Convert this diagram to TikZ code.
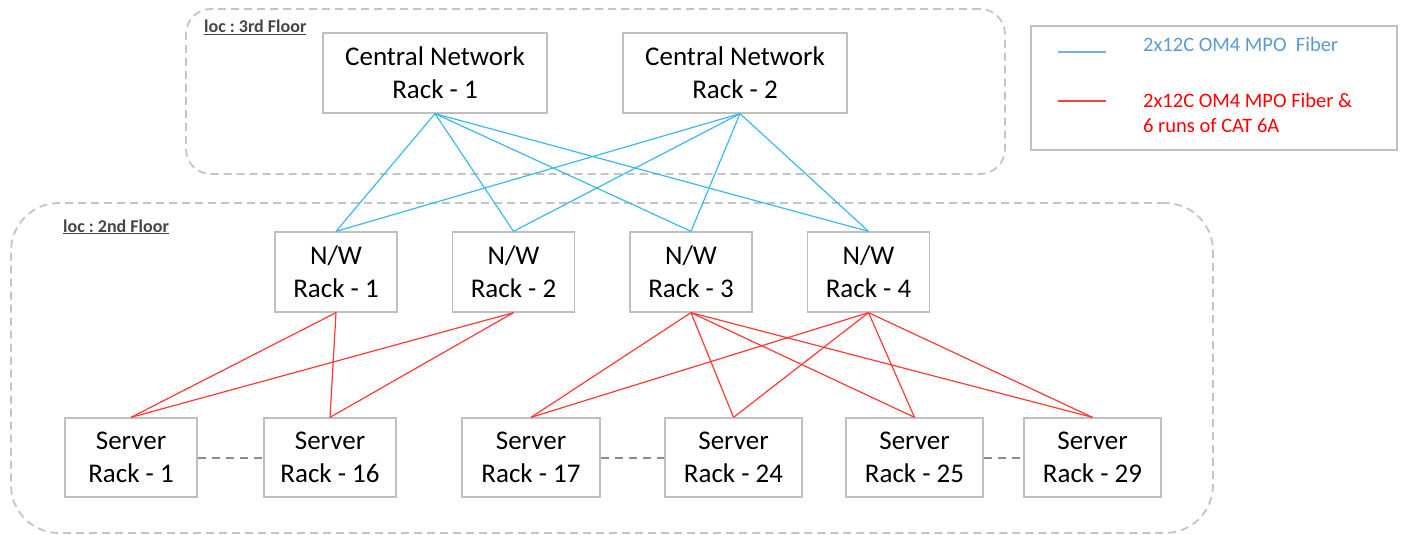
\documentclass[tikz,border=0pt]{standalone}
\usepackage{fontspec}
\setmainfont{Carlito}
\frenchspacing
\definecolor{boxgray}{HTML}{BFBFBF}
\definecolor{floorgray}{HTML}{C4C4C4}
\definecolor{linkgray}{HTML}{8C8C8C}
\definecolor{fiberblue}{HTML}{3CB9EA}
\definecolor{cablered}{HTML}{FF3838}
\definecolor{legblue}{HTML}{5B9BD5}
\definecolor{legred}{HTML}{FF0000}
\definecolor{labelgray}{HTML}{454545}
\begin{document}
\begin{tikzpicture}[x=1pt,y=-1pt,
  rack/.style={draw=boxgray, line width=1.3pt, inner sep=0pt, align=center,
    font=\fontsize{27}{33}\selectfont, text=black},
  floorbox/.style={draw=floorgray, line width=1.8pt, dash pattern=on 8pt off 5pt, inner sep=0pt},
  floorlabel/.style={font=\fontsize{18}{21}\selectfont\bfseries, text=labelgray, anchor=base west, inner sep=0pt},
  fiber/.style={draw=fiberblue, line width=1.2pt},
  cable/.style={draw=cablered, line width=1.2pt},
  serverlink/.style={draw=linkgray, line width=2pt, dash pattern=on 8pt off 6pt},
  legtext/.style={font=\fontsize{20.5}{25}\selectfont, anchor=base west, inner sep=0pt}]
\useasboundingbox (0,0) rectangle (1403,535);

% floors
\node[floorbox, rounded corners=25pt, minimum width=819pt, minimum height=165pt] (f3) at (595.5,91.5) {};
\node[floorbox, rounded corners=48pt, minimum width=1202pt, minimum height=330pt] (f2) at (612,368) {};
\node[floorlabel] (l3) at (204,33) {\underline{loc : 3rd Floor}};
\node[floorlabel] (l2) at (63,232) {\underline{loc : 2nd Floor}};

% central racks
\node[rack, minimum width=224pt, minimum height=80pt] (c1) at (435,73) {Central Network\\Rack - 1};
\node[rack, minimum width=224pt, minimum height=80pt] (c2) at (735,73) {Central Network\\Rack - 2};

% network racks
\foreach \i/\x in {1/336,2/513.5,3/691,4/868.5}
  \node[rack, minimum width=122pt, minimum height=80pt] (n\i) at (\x,272) {N/W\\ Rack - \i};

% server racks
\node[rack, minimum width=132pt, minimum height=79pt] (s1) at (131,457.5) {Server\\Rack - 1};
\node[rack, minimum width=132pt, minimum height=79pt] (s16) at (330,457.5) {Server\\ Rack - 16};
\node[rack, minimum width=138pt, minimum height=79pt] (s17) at (531,457.5) {Server\\ Rack - 17};
\node[rack, minimum width=137pt, minimum height=79pt] (s24) at (733.5,457.5) {Server\\ Rack - 24};
\node[rack, minimum width=137pt, minimum height=79pt] (s25) at (914.5,457.5) {Server\\ Rack - 25};
\node[rack, minimum width=137pt, minimum height=79pt] (s29) at (1092.5,457.5) {Server\\ Rack - 29};

% fiber links
\foreach \n in {1,2,3,4} {
  \draw[fiber] (c1.south) -- (n\n.north);
  \draw[fiber] ([xshift=5pt]c2.south) -- (n\n.north);
}

% copper + fiber links
\foreach \n in {1,2} \foreach \s in {s1,s16}
  \draw[cable] (n\n.south) -- (\s.north);
\foreach \n in {3,4} \foreach \s in {s17,s24,s25,s29}
  \draw[cable] (n\n.south) -- (\s.north);

% dashed continuation links
\draw[serverlink] (s1.east) -- (s16.west);
\draw[serverlink] (s17.east) -- (s24.west);
\draw[serverlink] (s25.east) -- (s29.west);

% legend
\node[draw=boxgray, line width=1.3pt, minimum width=366pt, minimum height=124pt] (leg) at (1214,88) {};
\coordinate (lb1) at (1058,52);
\coordinate (lb2) at (1106,52);
\coordinate (lr1) at (1058,101);
\coordinate (lr2) at (1106,101);
\draw[draw=legblue!80, line width=2pt] (lb1) -- (lb2);
\draw[draw=legred!75, line width=2pt] (lr1) -- (lr2);
\node[legtext, text=legblue] (t1) at (1143,52) {2x12C OM4 MPO\ \ Fiber};
\node[legtext, text=legred] (t2) at (1143,107) {2x12C OM4 MPO Fiber \&};
\node[legtext, text=legred] (t3) at (1143,132) {6 runs of CAT 6A};
\end{tikzpicture}
\end{document}
